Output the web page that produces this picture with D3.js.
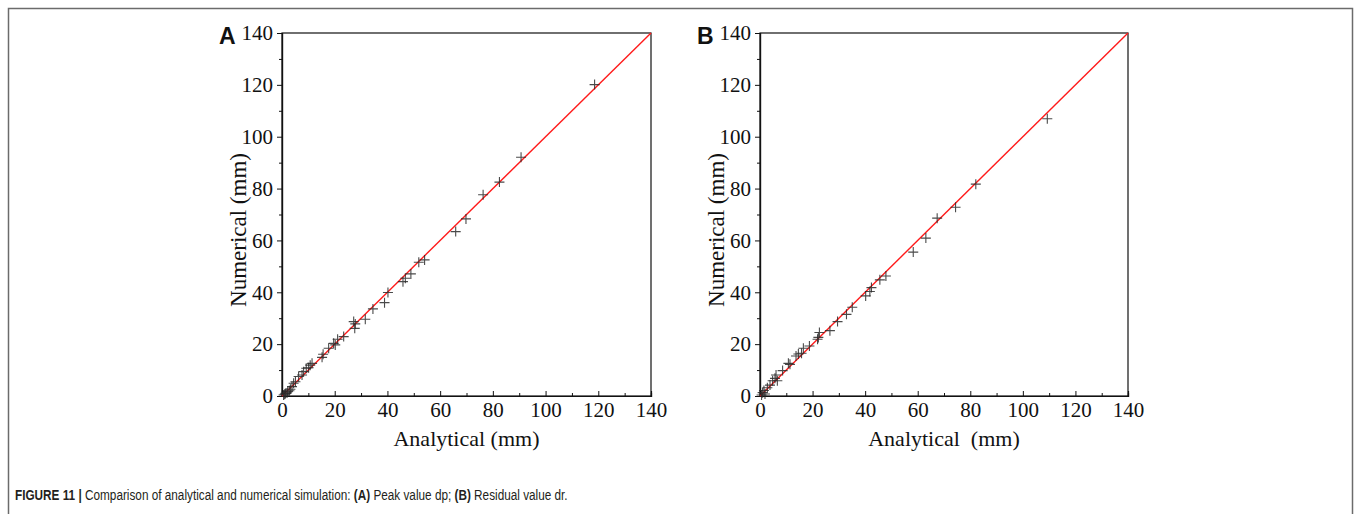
<!DOCTYPE html>
<html>
<head>
<meta charset="utf-8">
<script src="https://cdn.jsdelivr.net/npm/d3@7"></script>
<style>
  body { margin: 0; background: #fff; }
  svg { display: block; }
</style>
</head>
<body>
<script>
// Panel A: peak value dp (analytical, numerical)
var peakAnalytical = [118.6, 90.7, 82.5, 76.3, 69.8, 65.9, 54.1, 51.9, 48.9, 46.8, 45.9, 40.2, 38.9, 34.5, 31.6,
  27.8, 27.2, 27.6, 23.4, 21.1, 20.2, 19.6, 17.7, 15.6, 15.2, 11.4, 10.7, 10.1, 9.2, 8.2, 7.6, 6.3, 5.1,
  4.4, 3.8, 3.2, 2.8, 2.2, 1.9, 1.3, 1.0, 0.6];
var peakNumerical = [120.1, 92.1, 82.5, 77.6, 68.3, 63.4, 52.5, 51.6, 47.1, 45.4, 44.1, 39.9, 36.0, 33.6, 29.6,
  27.8, 28.7, 26.1, 22.9, 21.9, 19.7, 20.3, 18.4, 16.1, 14.9, 12.6, 11.9, 10.9, 10.7, 9.4, 8.1, 7.5, 5.5,
  4.9, 3.6, 2.6, 2.0, 1.7, 1.2, 1.0, 0.7, 0.4];

// Panel B: residual value dr
var residualAnalytical = [109.3, 82.1, 74.4, 67.4, 63.1, 58.3, 47.9, 45.6, 42.4, 41.8, 40.2, 35.1, 32.9, 29.5,
  26.6, 22.6, 22.2, 21.9, 18.8, 16.5, 15.8, 14.6, 13.7, 11.4, 10.8, 8.6, 6.1, 5.7, 6.6, 4.8, 3.8, 2.8,
  1.5, 1.0, 1.9, 0.6];
var residualNumerical = [106.9, 81.7, 72.8, 68.6, 60.9, 55.5, 46.3, 44.8, 41.8, 40.3, 38.6, 34.2, 31.5, 28.7,
  25.2, 24.5, 22.6, 21.9, 19.3, 18.4, 16.5, 16.2, 15.4, 12.2, 12.6, 9.8, 8.1, 6.8, 5.9, 5.9, 4.2, 3.2,
  2.1, 1.3, 0.8, 0.4];

var axisTicks = [0, 20, 40, 60, 80, 100, 120, 140];
var minorTicks = [10, 30, 50, 70, 90, 110, 130];
var panelLetters = ["A", "B"];
var xTitles = ["Analytical (mm)", "Analytical\u00a0\u00a0(mm)"];
var yTitle = "Numerical (mm)";
var caption = "Comparison of analytical and numerical simulation: ";

var width = 1354, height = 514;
var svg = d3.select("body").append("svg")
  .attr("width", width)
  .attr("height", height);

// outer frame of the figure
svg.append("path")
  .attr("d", "M8.5,520 V8.5 H1352.5 V520")
  .attr("fill", "none")
  .attr("stroke", "#6b6b6b")
  .attr("stroke-width", 1.5);

var serif = "'Liberation Serif', 'Times New Roman', serif";

function drawPanel(left, right, xs, ys, idx) {
  var top = 33, bottom = 396;
  var x = d3.scaleLinear().domain([0, 140]).range([left, right]);
  var y = d3.scaleLinear().domain([0, 140]).range([bottom, top]);
  var g = svg.append("g");

  // frame (top / right)
  g.append("rect")
    .attr("x", left).attr("y", top)
    .attr("width", right - left).attr("height", bottom - top)
    .attr("fill", "none").attr("stroke", "#111").attr("stroke-width", 1.2);

  // x axis - ticks point inward
  var xAxis = g.append("g")
    .attr("transform", "translate(0," + bottom + ")")
    .call(d3.axisBottom(x).tickValues(axisTicks).tickSize(-5).tickPadding(8));
  xAxis.append("g").call(d3.axisBottom(x).tickValues(minorTicks).tickSize(-3).tickFormat(""));
  // y axis - ticks point outward
  var yAxis = g.append("g")
    .attr("transform", "translate(" + left + ",0)")
    .call(d3.axisLeft(y).tickValues(axisTicks).tickSize(5).tickPadding(4));
  yAxis.append("g").call(d3.axisLeft(y).tickValues(minorTicks).tickSize(3).tickFormat(""));

  g.selectAll(".domain").attr("stroke", "#111").attr("stroke-width", 1.2);
  g.selectAll(".tick line").attr("stroke", "#111");
  g.selectAll(".tick text")
    .attr("fill", "#111")
    .style("font-family", serif)
    .style("font-size", "21px");
  xAxis.selectAll(".tick text").attr("dy", "0.6em");

  // 1:1 line
  g.append("line")
    .attr("x1", x(0)).attr("y1", y(0))
    .attr("x2", x(140)).attr("y2", y(140))
    .attr("stroke", "#ff1a1a").attr("stroke-width", 1.4);

  // cross markers
  var pts = xs.map(function(v, i) { return [v, ys[i]]; });
  var r = 5;
  g.selectAll("path.pt").data(pts).enter().append("path")
    .attr("class", "pt")
    .attr("d", function(d) {
      var cx = x(d[0]), cy = y(d[1]);
      return "M" + (cx - r) + "," + cy + "H" + (cx + r) + "M" + cx + "," + (cy - r) + "V" + (cy + r);
    })
    .attr("stroke", "#2a2a2a")
    .attr("stroke-opacity", 0.85)
    .attr("stroke-width", 1.1);

  // titles
  g.append("text")
    .attr("x", (left + right) / 2)
    .attr("y", 446)
    .attr("text-anchor", "middle")
    .style("font-family", serif)
    .style("font-size", "22px")
    .attr("fill", "#111")
    .text(xTitles[idx]);

  g.append("text")
    .attr("transform", "translate(" + (left - 36) + "," + 230 + ") rotate(-90)")
    .attr("text-anchor", "middle")
    .style("font-family", serif)
    .style("font-size", "23px")
    .attr("fill", "#111")
    .text(yTitle);

  // panel letter
  g.append("text")
    .attr("x", left - 63)
    .attr("y", 44)
    .style("font-family", "'Liberation Sans', Arial, sans-serif")
    .style("font-weight", "bold")
    .style("font-size", "23px")
    .attr("fill", "#111")
    .text(panelLetters[idx]);
}

drawPanel(282, 651, peakAnalytical, peakNumerical, 0);
drawPanel(760, 1128, residualAnalytical, residualNumerical, 1);

// caption - condensed sans, squeezed horizontally
var cap = svg.append("text")
  .attr("transform", "translate(15,500) scale(0.76,1)")
  .style("font-family", "'Liberation Sans', Arial, sans-serif")
  .style("font-size", "15.5px")
  .attr("fill", "#231f20");
cap.append("tspan").style("font-weight", "bold").text("FIGURE 11 | ");
cap.append("tspan").text(caption);
cap.append("tspan").style("font-weight", "bold").text("(A)");
cap.append("tspan").text(" Peak value dp; ");
cap.append("tspan").style("font-weight", "bold").text("(B)");
cap.append("tspan").text(" Residual value dr.");
</script>
</body>
</html>
